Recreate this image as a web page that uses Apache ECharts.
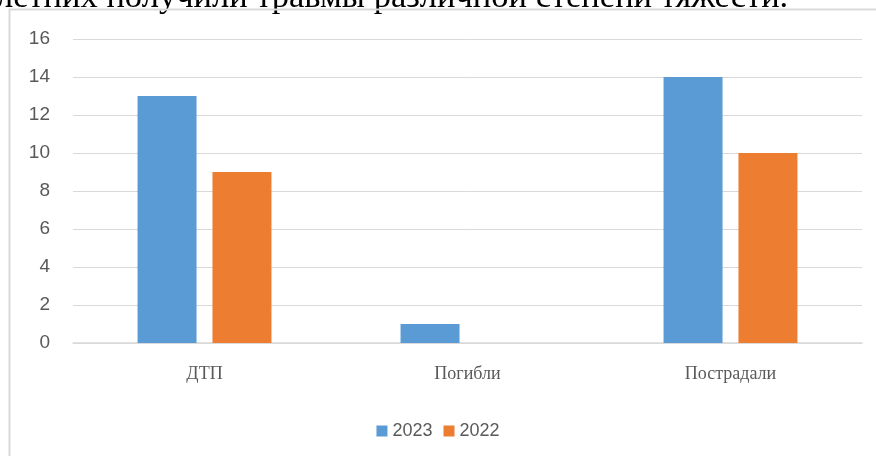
<!DOCTYPE html>
<html><head><meta charset="utf-8">
<script src="https://cdn.jsdelivr.net/npm/echarts@6/dist/echarts.min.js"></script>
<style>html,body{margin:0;padding:0;background:#fff}#c{width:876px;height:456px}</style>
</head><body><div id="c"></div>
<script>
const categories = ['ДТП', 'Погибли', 'Пострадали'];
const seriesNames = ['2023', '2022'];
const values2023 = [13, 1, 14];
const values2022 = [9, 0, 10];
const yTicks = [0, 2, 4, 6, 8, 10, 12, 14, 16];
const topText = 'летних получили травмы различной степени тяжести.';

const chart = echarts.init(document.getElementById('c'), null, {renderer: 'canvas'});
chart.setOption({
  animation: false,
  backgroundColor: '#fff',
  graphic: [
    {type: 'text', z: 1, style: {x: -4, y: 15, text: topText, font: '34.5px "Liberation Serif"', fill: '#000', verticalAlign: 'bottom', textVerticalAlign: 'bottom'}},
    {type: 'rect', z: 5, shape: {x: 9.5, y: 9.5, width: 900, height: 500}, style: {fill: 'none', stroke: '#d9d9d9', lineWidth: 2}}
  ],
  grid: {left: 73, right: 14, top: 39, bottom: 113, containLabel: false},
  legend: {
    data: seriesNames, top: 417, left: 'center', itemWidth: 11, itemHeight: 11, itemGap: 11,
    icon: 'rect',
    textStyle: {fontFamily: 'Liberation Sans', fontSize: 18, color: '#595959'}
  },
  xAxis: {
    type: 'category', data: categories,
    axisLine: {lineStyle: {color: '#d9d9d9', width: 1.5}},
    axisTick: {show: false},
    axisLabel: {fontFamily: 'Liberation Serif', fontSize: 18, color: '#595959', margin: 22}
  },
  yAxis: {
    type: 'value', min: 0, max: 16, interval: 2,
    axisLine: {show: false}, axisTick: {show: false},
    splitLine: {lineStyle: {color: '#d9d9d9', width: 1}},
    axisLabel: {fontFamily: 'Liberation Sans', fontSize: 19, color: '#595959', margin: 23,
      formatter: v => yTicks.includes(v) ? String(v) : ''}
  },
  series: [
    {name: seriesNames[0], type: 'bar', data: values2023, barWidth: 59, barGap: '27%', itemStyle: {color: '#5b9bd5'}},
    {name: seriesNames[1], type: 'bar', data: values2022, barWidth: 59, barGap: '27%', itemStyle: {color: '#ed7d31'}}
  ]
});
</script></body></html>
